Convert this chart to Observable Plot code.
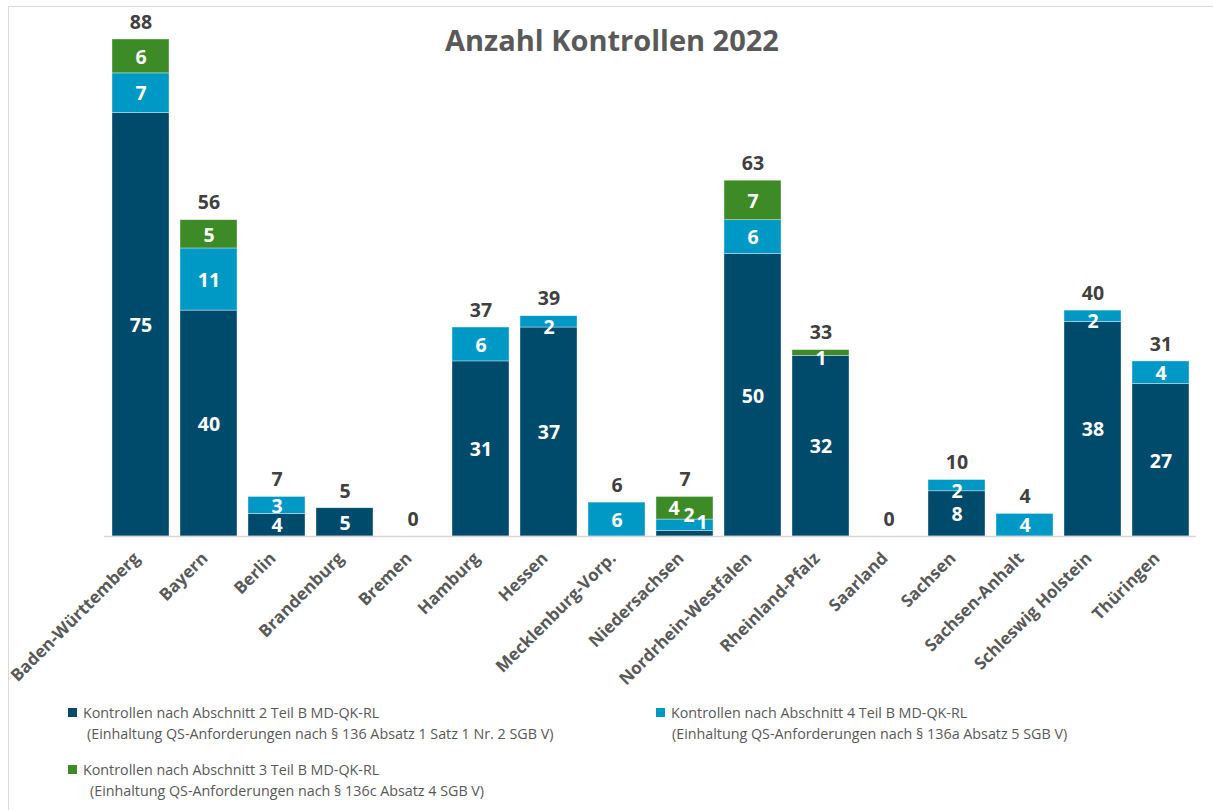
<!DOCTYPE html>
<html>
<head>
<meta charset="utf-8">
<script src="https://cdn.jsdelivr.net/npm/d3@7"></script>
<script src="https://cdn.jsdelivr.net/npm/@observablehq/plot@0.6"></script>
<style>
  html, body { margin: 0; padding: 0; background: #fff; }
  #wrap { position: relative; width: 1213px; height: 810px; overflow: hidden; font-family: "Open Sans", sans-serif; }
  #border { position: absolute; left: 8px; top: 6px; width: 1230px; height: 830px; border: 1.5px solid #d9d9d9; box-sizing: border-box; }
  #title { position: absolute; left: 0; width: 1224px; top: 20px; text-align: center; font-size: 29px; font-weight: bold; color: #595959; }
  #chart { position: absolute; left: 0; top: 0; }
  .leg { position: absolute; font-size: 14.3px; color: #595959; line-height: 21px; white-space: nowrap; }
  .sw { position: absolute; width: 9px; height: 9px; }
</style>
</head>
<body>
<div id="wrap">
  <div id="border"></div>
  <div id="chart"></div>
  <div id="title">Anzahl Kontrollen 2022</div>
  <div id="legend"></div>
</div>
<script>
const laender = ["Baden-Württemberg","Bayern","Berlin","Brandenburg","Bremen","Hamburg","Hessen","Mecklenburg-Vorp.","Niedersachsen","Nordrhein-Westfalen","Rheinland-Pfalz","Saarland","Sachsen","Sachsen-Anhalt","Schleswig Holstein","Thüringen"];
const abschnitt2 = [75,40,4,5,0,31,37,0,1,50,32,0,8,0,38,27];
const abschnitt4 = [7,11,3,0,0,6,2,6,2,6,0,0,2,4,2,4];
const abschnitt3 = [6,5,0,0,0,0,0,0,4,7,1,0,0,0,0,0];
const seriesNames = ["Abschnitt 2","Abschnitt 4","Abschnitt 3"];
const seriesColors = ["#004a6b","#0099c6","#3d8b27"];
const legendLines = [
  ["Kontrollen nach Abschnitt 2 Teil B MD-QK-RL","(Einhaltung QS-Anforderungen nach § 136 Absatz 1 Satz 1 Nr. 2 SGB V)"],
  ["Kontrollen nach Abschnitt 4 Teil B MD-QK-RL","(Einhaltung QS-Anforderungen nach § 136a Absatz 5 SGB V)"],
  ["Kontrollen nach Abschnitt 3 Teil B MD-QK-RL","(Einhaltung QS-Anforderungen nach § 136c Absatz 4 SGB V)"]
];

const seriesValues = [abschnitt2, abschnitt4, abschnitt3];
const data = [];
laender.forEach((land, i) => {
  seriesNames.forEach((s, j) => data.push({land, series: s, value: seriesValues[j][i]}));
});

const special = "Niedersachsen";
const base = {x: "land", y: "value", z: "series", order: null};
const labelStyle = {fill: "white", fontSize: 19.5, fontWeight: "bold"};

function nsLabel(s, dx, dy) {
  return Plot.text(data, Plot.stackY({...base,
    text: d => (d.land === special && d.series === s && d.value > 0) ? String(d.value) : "",
    ...labelStyle, dx, dy}));
}

const plot = Plot.plot({
  width: 1213,
  height: 700,
  marginLeft: 104,
  marginRight: 17,
  marginTop: 39,
  marginBottom: 164,
  style: {fontFamily: "Open Sans, sans-serif", background: "transparent", overflow: "visible"},
  x: {domain: laender, paddingInner: 0.165, paddingOuter: 0.08, label: null},
  y: {domain: [0, 88], axis: null},
  color: {domain: seriesNames, range: seriesColors},
  marks: [
    Plot.barY(data, Plot.stackY({...base, fill: "series", stroke: "white", strokeWidth: 0.6, strokeOpacity: 0.6})),
    Plot.ruleY([0], {stroke: "#d9d9d9", strokeWidth: 1.5}),
    Plot.text(data, Plot.stackY({...base,
      text: d => (d.value > 2 && d.land !== special) ? String(d.value) : "",
      ...labelStyle, dy: 1})),
    Plot.text(data, Plot.stackY({...base,
      text: d => (d.value > 0 && d.value <= 2 && d.land !== special) ? String(d.value) : "",
      ...labelStyle, dy: 6})),
    nsLabel("Abschnitt 3", -11, 0),
    nsLabel("Abschnitt 4", 4, -9),
    nsLabel("Abschnitt 2", 17, -11),
    Plot.text(data, Plot.groupX({y: "sum", text: "sum"}, {x: "land", y: "value", text: "value", dy: -17, fill: "#404040", fontSize: 19.5, fontWeight: "bold"})),
    Plot.axisX({tickRotate: -45, tickSize: 0, tickPadding: 19, dx: -4, fontSize: 17, fontWeight: "bold", fill: "#595959", label: null})
  ]
});
document.getElementById("chart").appendChild(plot);

const legendPos = [[68, 702], [656, 702], [68, 759]];
const indent = [4, 1, 7];
const leg = document.getElementById("legend");
legendLines.forEach((lines, i) => {
  const [lx, ly] = legendPos[i];
  const sw = document.createElement("div");
  sw.className = "sw";
  sw.style.left = lx + "px"; sw.style.top = (ly + 6) + "px";
  sw.style.background = seriesColors[i];
  leg.appendChild(sw);
  const t = document.createElement("div");
  t.className = "leg";
  t.style.left = (lx + 15) + "px"; t.style.top = ly + "px";
  const l1 = document.createElement("div");
  l1.textContent = lines[0];
  const l2 = document.createElement("div");
  l2.textContent = lines[1];
  l2.style.paddingLeft = indent[i] + "px";
  t.appendChild(l1); t.appendChild(l2);
  leg.appendChild(t);
});
</script>
</body>
</html>
